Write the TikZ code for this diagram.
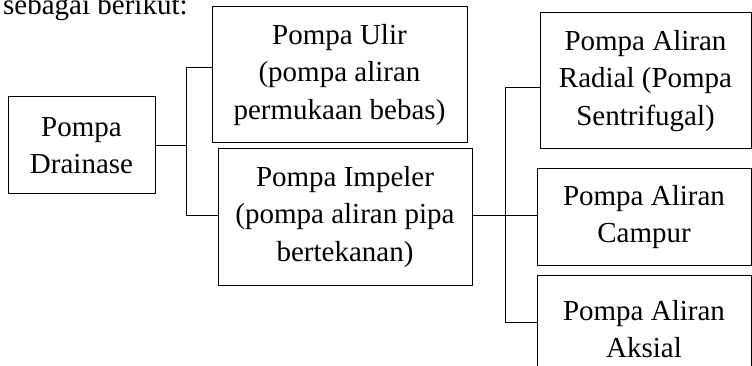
\documentclass[tikz,border=0pt]{standalone}
\usepackage{fontspec}
\setmainfont{Liberation Serif}
\begin{document}
\begin{tikzpicture}[x=1pt,y=1pt,
  box/.style={draw,line width=1pt,align=center,inner sep=0pt,
    font=\fontsize{29}{37.5}\selectfont},
  conn/.style={line width=1pt}]
\clip (0,0) rectangle (752,-366);
\useasboundingbox (0,0) rectangle (752,-366);
\node[anchor=base west,inner sep=0pt,font=\fontsize{29}{37.5}\selectfont] (intro) at (3,-15) {sebagai berikut:};
\node[box,minimum width=147,minimum height=97] (D) at (81.5,-145.5) {Pompa\\Drainase};
\node[box,minimum width=255,minimum height=136] (U) at (339.5,-75) {Pompa Ulir\\(pompa aliran\\permukaan bebas)};
\node[box,minimum width=254,minimum height=136] (I) at (345,-217) {Pompa Impeler\\(pompa aliran pipa\\bertekanan)};
\node[box,minimum width=211,minimum height=136] (R) at (645.5,-81) {Pompa Aliran\\Radial (Pompa\\Sentrifugal)};
\node[box,minimum width=214,minimum height=96] (C) at (644,-217) {Pompa Aliran\\Campur};
\node[box,minimum width=214,minimum height=108] (A) at (644,-329) {Pompa Aliran\\Aksial};
% left connectors
\coordinate (j1) at (186,-146);
\coordinate (j1t) at (186,-68);
\coordinate (j1b) at (186,-216);
\draw[conn] (D.east |- j1) -- (j1);
\draw[conn] (j1t) -- (j1b);
\draw[conn] (j1t) -- (j1t -| U.west);
\draw[conn] (j1b) -- (j1b -| I.west);
% right connectors
\coordinate (j2) at (505,-216);
\coordinate (j2t) at (505,-88);
\coordinate (j2b) at (505,-322);
\draw[conn] (I.east |- j2) -- (j2);
\draw[conn] (j2t) -- (j2b);
\draw[conn] (j2t) -- (j2t -| R.west);
\draw[conn] (j2) -- (j2 -| C.west);
\draw[conn] (j2b) -- (j2b -| A.west);
\end{tikzpicture}
\end{document}
